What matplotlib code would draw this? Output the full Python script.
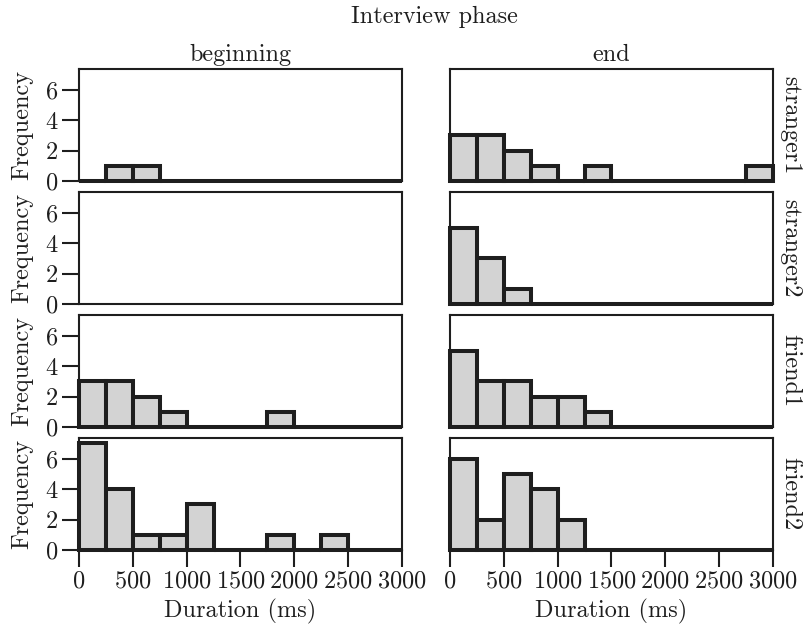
"""
Histograms of pause durations per dyad and interview phase
"""

from matplotlib import pyplot as plt
import numpy as np

###############################################################################
# counts per 250 ms bin, 0..3000 ms
bin_edges = np.arange(0, 3001, 250)
phases = ['beginning', 'end']
dyads = ['stranger1', 'stranger2', 'friend1', 'friend2']

begin_stranger1 = [0, 1, 1, 0, 0, 0, 0, 0, 0, 0, 0, 0]
end_stranger1 = [3, 3, 2, 1, 0, 1, 0, 0, 0, 0, 0, 1]
begin_stranger2 = []  # no observations
end_stranger2 = [5, 3, 1, 0, 0, 0, 0, 0, 0, 0, 0, 0]
begin_friend1 = [3, 3, 2, 1, 0, 0, 0, 1, 0, 0, 0, 0]
end_friend1 = [5, 3, 3, 2, 2, 1, 0, 0, 0, 0, 0, 0]
begin_friend2 = [7, 4, 1, 1, 3, 0, 0, 1, 0, 1, 0, 0]
end_friend2 = [6, 2, 5, 4, 2, 0, 0, 0, 0, 0, 0, 0]

counts = [[begin_stranger1, end_stranger1],
          [begin_stranger2, end_stranger2],
          [begin_friend1, end_friend1],
          [begin_friend2, end_friend2]]

xticks = [0, 500, 1000, 1500, 2000, 2500, 3000]
yticks = [0, 2, 4, 6]

###############################################################################
plt.rcParams['font.family'] = 'cmr10'
plt.rcParams['axes.formatter.use_mathtext'] = True
plt.rcParams['mathtext.fontset'] = 'cm'
ink = '#1e1e1e'
fs = 17.5

fig = plt.figure(figsize=(8.04, 6.28), dpi=100)

W, H = 804., 628.
col_left = [79, 450]
col_w = 323
row_top = [69, 192, 315, 438]
row_h = 112

for i, dyad in enumerate(dyads):
    for j, phase in enumerate(phases):
        ax = fig.add_axes([col_left[j] / W, 1 - (row_top[i] + row_h) / H,
                           col_w / W, row_h / H])
        c = counts[i][j]
        if len(c):
            ax.bar(bin_edges[:-1], c, width=250, align='edge',
                   color='#d3d3d3', edgecolor=ink, linewidth=2.9,
                   zorder=3, clip_on=False)
        ax.set_xlim(0, 3000)
        ax.set_ylim(0, 7.35)
        for sp in ax.spines.values():
            sp.set_linewidth(1.5)
            sp.set_color(ink)
        ax.tick_params(direction='out', length=12, width=1.5, color=ink,
                       labelsize=fs, labelcolor=ink, pad=3)
        ax.set_xticks(xticks)
        ax.set_yticks(yticks)
        if i < 3:
            ax.tick_params(axis='x', length=0, labelbottom=False)
        else:
            ax.set_xlabel('Duration (ms)', fontsize=fs, color=ink)
            ax.xaxis.set_label_coords(0.5, -0.44)
        if j == 1:
            ax.tick_params(axis='y', length=0, labelleft=False)
        else:
            ax.set_ylabel('Frequency', fontsize=fs, color=ink)
            ax.yaxis.set_label_coords(-0.142, 0.5)
        if i == 0:
            ax.set_title(phase, fontsize=fs, color=ink, pad=6)
        if j == 1:
            ax.text(1.0 + 17 / col_w, 0.5, dyad, transform=ax.transAxes,
                    rotation=270, ha='center', va='center', fontsize=fs,
                    color=ink)

fig.text(434 / W, 1 - 23 / H, 'Interview phase', ha='center',
         va='baseline', fontsize=fs, color=ink)

plt.savefig('out.png', dpi=100, facecolor='white')
